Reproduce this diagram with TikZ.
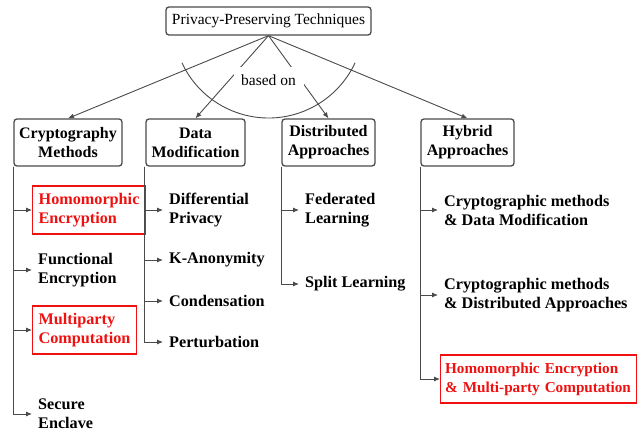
\documentclass[tikz,border=0pt]{standalone}
\usepackage{fontspec}
\setmainfont{Liberation Serif}
\usetikzlibrary{arrows.meta}
\definecolor{lc}{HTML}{4A4A4A}
\definecolor{rd}{HTML}{F01010}
\begin{document}
\begin{tikzpicture}[x=1pt,y=-1pt,
  every node/.style={font=\fontsize{15.5}{19}\selectfont},
  topbox/.style={draw=lc,line width=1.3pt,rounded corners=3pt,minimum height=28pt,inner sep=0pt},
  catbox/.style={draw=lc,line width=1.3pt,rounded corners=3pt,minimum height=47pt,inner sep=0pt,align=center,font=\fontsize{16}{19}\selectfont\bfseries},
  leaf/.style={anchor=west,inner xsep=6pt,inner ysep=0pt,align=left,font=\fontsize{16.2}{19}\selectfont\bfseries},
  redleaf/.style={leaf,draw=rd,line width=1.3pt,text=rd,minimum height=48pt},
  conn/.style={draw=lc,line width=0.9pt,-{Latex[length=6pt,width=5pt]}},
]
\useasboundingbox (0,0) rectangle (638,433);
\node[topbox,minimum width=205pt] (top) at (268.5,21) {Privacy-Preserving Techniques};
\node[catbox,minimum width=108pt] (cm) at (68,142.5) {Cryptography\\Methods};
\node[catbox,minimum width=99pt] (dm) at (195.5,142.5) {Data\\Modification};
\node[catbox,minimum width=93pt] (da) at (328.5,142.5) {Distributed\\Approaches};
\node[catbox,minimum width=93pt] (ha) at (467.5,142.5) {Hybrid\\Approaches};
\foreach \n in {cm,dm,da,ha} \draw[conn] (top.south) -- (\n.north);
\draw[lc,line width=0.9pt] (268.5,22.5) ++(155:95.5) arc[start angle=155,end angle=25,radius=95.5];
\node[fill=white,minimum width=70pt,minimum height=25pt,inner sep=0pt] (bo) at (268.5,80) {based on};
% cryptography
\node[redleaf,text width=101pt] (he) at (32,210) {Homomorphic\\Encryption};
\node[leaf] (fe) at (32,270) {Functional\\Encryption};
\node[redleaf,text width=92pt] (mp) at (32,330) {Multiparty\\Computation};
\node[leaf] (se) at (32,414) {Secure\\Enclave};
\foreach \n in {he,fe,mp,se} \draw[conn] (cm.south west) |- (\n.west);
% data modification
\node[leaf] (dp) at (163,210) {Differential\\Privacy};
\node[leaf] (ka) at (163,260) {K-Anonymity};
\node[leaf] (co) at (163,301) {Condensation};
\node[leaf] (pe) at (163,342) {Perturbation};
\foreach \n in {dp,ka,co,pe} \draw[conn] ([xshift=-1pt]dm.south west) |- (\n.west);
% distributed
\node[leaf] (fl) at (299,210) {Federated\\Learning};
\node[leaf] (sl) at (299,284) {Split Learning};
\foreach \n in {fl,sl} \draw[conn] (da.south west) |- (\n.west);
% hybrid
\node[leaf] (h1) at (438,210) {Cryptographic methods\\\& Data Modification};
\node[leaf] (h2) at (438,295) {Cryptographic methods\\\& Distributed Approaches};
\node[redleaf,inner xsep=4.5pt,text width=187pt,font=\fontsize{15.2}{19}\selectfont\bfseries] (h3) at (440,379) {Homomorphic Encryption\\\& Multi-party Computation};
\foreach \n in {h1,h2,h3} \draw[conn] (ha.south west) |- (\n.west);
\end{tikzpicture}
\end{document}
